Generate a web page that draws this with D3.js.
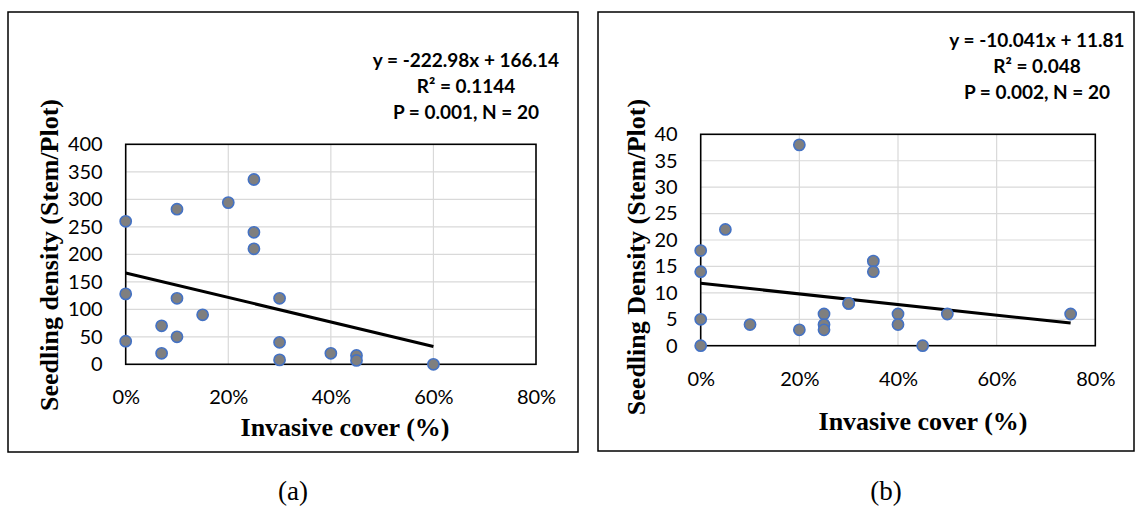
<!DOCTYPE html>
<html>
<head>
<meta charset="utf-8">
<script src="https://cdn.jsdelivr.net/npm/d3@7"></script>
<style>
  body { margin: 0; background: #fff; }
  svg { display: block; }
</style>
</head>
<body>
<svg id="chart" width="1136" height="506"></svg>
<script>
// ---- Data -------------------------------------------------------------
// Shared x ticks (invasive cover as a fraction)
const xTicks = [0, 0.2, 0.4, 0.6, 0.8];

// Panel (a): seedling density (stems per plot)
const coverA   = [0, 0, 0, 0.07, 0.07, 0.10, 0.10, 0.10, 0.15, 0.20, 0.25, 0.25, 0.25, 0.30, 0.30, 0.30, 0.40, 0.45, 0.45, 0.60];
const densityA = [260, 128, 42, 70, 20, 282, 120, 50, 90, 294, 336, 240, 210, 120, 40, 8, 20, 16, 7, 0];
const yTicksA  = [0, 50, 100, 150, 200, 250, 300, 350, 400];
const fitA     = [-222.98, 166.14];               // slope, intercept
const statsA   = ["y = -222.98x + 166.14", "R\u00B2 = 0.1144", "P = 0.001, N = 20"];
const yTitleA  = "Seedling density (Stem/Plot)";

// Panel (b): seedling density (stems per plot)
const coverB   = [0, 0, 0, 0, 0.05, 0.10, 0.20, 0.20, 0.25, 0.25, 0.25, 0.30, 0.30, 0.35, 0.35, 0.40, 0.40, 0.45, 0.50, 0.75];
const densityB = [18, 14, 5, 0, 22, 4, 3, 38, 6, 4, 3, 8, 8, 16, 14, 6, 4, 0, 6, 6];
const yTicksB  = [0, 5, 10, 15, 20, 25, 30, 35, 40];
const fitB     = [-10.041, 11.81];
const statsB   = ["y = -10.041x + 11.81", "R\u00B2 = 0.048", "P = 0.002, N = 20"];
const yTitleB  = "Seedling Density (Stem/Plot)";

const xTitle   = "Invasive cover (%)";
const captions = ["(a)", "(b)"];

// ---- Layout -----------------------------------------------------------
const panels = [
  {
    cover: coverA, density: densityA, yTicks: yTicksA, fit: fitA, stats: statsA, yTitle: yTitleA, caption: captions[0],
    frame: { x: 8, y: 12, w: 570, h: 440 },
    plot: { l: 125.7, r: 536, t: 144.3, b: 364.3 },
    stats_x: 466, stats_y: 67,
    yTitle_x: 58, yTitle_y: 255,
    xTitle_x: 345, xTitle_y: 436,
    caption_x: 293
  },
  {
    cover: coverB, density: densityB, yTicks: yTicksB, fit: fitB, stats: statsB, yTitle: yTitleB, caption: captions[1],
    frame: { x: 598, y: 12, w: 536, h: 439 },
    plot: { l: 700.7, r: 1095.3, t: 134.3, b: 345.7 },
    stats_x: 1037, stats_y: 47,
    yTitle_x: 645, yTitle_y: 257,
    xTitle_x: 923, xTitle_y: 430,
    caption_x: 886
  }
];

const svg = d3.select("#chart");
const tickFont = "Lato, 'Open Sans', sans-serif";
const titleFont = "'Liberation Serif', 'Times New Roman', serif";
const pct = d3.format(".0%");

panels.forEach(p => {
  const g = svg.append("g");

  // outer frame
  g.append("rect")
    .attr("x", p.frame.x).attr("y", p.frame.y)
    .attr("width", p.frame.w).attr("height", p.frame.h)
    .attr("fill", "#fff").attr("stroke", "#000").attr("stroke-width", 1.5);

  const x = d3.scaleLinear().domain([0, 0.8]).range([p.plot.l, p.plot.r]);
  const yMax = p.yTicks[p.yTicks.length - 1];
  const y = d3.scaleLinear().domain([0, yMax]).range([p.plot.b, p.plot.t]);

  // gridlines
  g.append("g").selectAll("line")
    .data(p.yTicks.slice(1, -1)).join("line")
    .attr("x1", p.plot.l).attr("x2", p.plot.r)
    .attr("y1", d => y(d)).attr("y2", d => y(d))
    .attr("stroke", "#d9d9d9").attr("stroke-width", 1.2);
  g.append("g").selectAll("line")
    .data(xTicks.slice(1, -1)).join("line")
    .attr("x1", d => x(d)).attr("x2", d => x(d))
    .attr("y1", p.plot.t).attr("y2", p.plot.b)
    .attr("stroke", "#d9d9d9").attr("stroke-width", 1.2);

  // plot area border
  g.append("rect")
    .attr("x", p.plot.l).attr("y", p.plot.t)
    .attr("width", p.plot.r - p.plot.l).attr("height", p.plot.b - p.plot.t)
    .attr("fill", "none").attr("stroke", "#000").attr("stroke-width", 1.6);

  // axes (labels only)
  const yAxis = g.append("g")
    .attr("transform", `translate(${p.plot.l},0)`)
    .call(d3.axisLeft(y).tickValues(p.yTicks).tickSize(0).tickPadding(23));
  yAxis.select(".domain").remove();
  yAxis.selectAll("text").attr("font-family", tickFont).attr("font-size", 20).attr("fill", "#000");

  const xAxis = g.append("g")
    .attr("transform", `translate(0,${p.plot.b})`)
    .call(d3.axisBottom(x).tickValues(xTicks).tickFormat(pct).tickSize(0).tickPadding(26));
  xAxis.select(".domain").remove();
  xAxis.selectAll("text").attr("font-family", tickFont).attr("font-size", 20).attr("fill", "#000");

  // linear trend line
  const [slope, intercept] = p.fit;
  const xr = d3.extent(p.cover);
  g.append("line")
    .attr("x1", x(xr[0])).attr("y1", y(slope * xr[0] + intercept))
    .attr("x2", x(xr[1])).attr("y2", y(slope * xr[1] + intercept))
    .attr("stroke", "#000").attr("stroke-width", 3);

  // points
  g.append("g").selectAll("circle")
    .data(p.cover.map((c, i) => [c, p.density[i]])).join("circle")
    .attr("cx", d => x(d[0])).attr("cy", d => y(d[1]))
    .attr("r", 5.6)
    .attr("fill", "#7f7f7f").attr("stroke", "#4472c4").attr("stroke-width", 1.6);

  // regression statistics
  g.append("g").selectAll("text")
    .data(p.stats).join("text")
    .attr("x", p.stats_x).attr("y", (d, i) => p.stats_y + i * 25.8)
    .attr("text-anchor", "middle")
    .attr("font-family", tickFont).attr("font-weight", "bold").attr("font-size", 19)
    .text(d => d);

  // axis titles
  g.append("text")
    .attr("transform", `translate(${p.yTitle_x},${p.yTitle_y}) rotate(-90)`)
    .attr("text-anchor", "middle")
    .attr("font-family", titleFont).attr("font-weight", "bold").attr("font-size", 26)
    .text(p.yTitle);
  g.append("text")
    .attr("x", p.xTitle_x).attr("y", p.xTitle_y)
    .attr("text-anchor", "middle")
    .attr("font-family", titleFont).attr("font-weight", "bold").attr("font-size", 26)
    .text(xTitle);

  // panel caption
  svg.append("text")
    .attr("x", p.caption_x).attr("y", 500)
    .attr("text-anchor", "middle")
    .attr("font-family", titleFont).attr("font-size", 27)
    .text(p.caption);
});
</script>
</body>
</html>
